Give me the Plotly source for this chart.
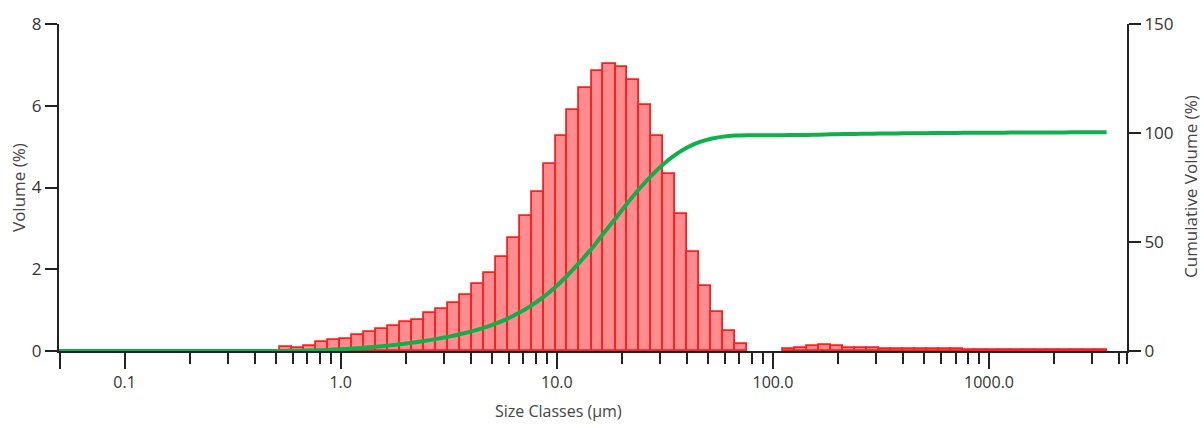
import numpy as np
import plotly.graph_objects as go

# Size class edges (µm), 100 classes
size_edges = [0.0100, 0.0114, 0.0129, 0.0147, 0.0167, 0.0189, 0.0215, 0.0244, 0.0278, 0.0315,
              0.0358, 0.0407, 0.0463, 0.0526, 0.0597, 0.0679, 0.0771, 0.0876, 0.0995, 0.113,
              0.128, 0.146, 0.166, 0.188, 0.214, 0.243, 0.276, 0.314, 0.357, 0.405,
              0.460, 0.523, 0.594, 0.675, 0.767, 0.872, 0.991, 1.13, 1.28, 1.45,
              1.65, 1.88, 2.13, 2.42, 2.75, 3.12, 3.55, 4.03, 4.58, 5.21,
              5.92, 6.72, 7.64, 8.68, 9.86, 11.2, 12.7, 14.5, 16.4, 18.7,
              21.2, 24.1, 27.4, 31.1, 35.3, 40.1, 45.6, 51.8, 58.9, 66.9,
              76.0, 86.4, 98.1, 111, 127, 144, 163, 186, 211, 240,
              272, 310, 352, 400, 454, 516, 586, 666, 756, 859,
              976, 1110, 1260, 1430, 1630, 1850, 2100, 2390, 2710, 3080,
              3500]

# Volume (%) per size class
volume = [0.0] * 31 + [
    0.09, 0.08, 0.13, 0.21, 0.28, 0.30, 0.39, 0.46, 0.53, 0.60,
    0.70, 0.77, 0.92, 1.02, 1.17, 1.37, 1.63, 1.90, 2.30, 2.76,
    3.30, 3.90, 4.57, 5.25, 5.89, 6.43, 6.85, 7.02, 6.95, 6.64,
    6.03, 5.25, 4.32, 3.36, 2.43, 1.59, 0.95, 0.49, 0.18, 0.0,
    0.0, 0.0, 0.04, 0.08, 0.12, 0.14, 0.12, 0.08, 0.07, 0.07,
    0.05, 0.05, 0.05, 0.05, 0.05, 0.04, 0.04, 0.03, 0.03, 0.03,
    0.03, 0.03, 0.02, 0.02, 0.02, 0.02, 0.02, 0.02, 0.02]

major_ticks = [0.05, 0.1, 1, 10, 100, 1000]
major_labels = ["", "0.1", "1.0", "10.0", "100.0", "1000.0"]
minor_ticks = [m * d for d in (0.1, 1, 10, 100) for m in range(2, 10)] + [2000, 3000, 4000]
X_MIN, X_MAX = 0.0497, 4350
left_ticks = [0, 2, 4, 6, 8]
right_ticks = [0, 50, 100, 150]

edges_log = np.log10(np.array(size_edges))
vol = np.array(volume)
centers = (edges_log[:-1] + edges_log[1:]) / 2
widths = edges_log[1:] - edges_log[:-1]
mask = vol > 0
cumulative = np.concatenate([[0.0], np.cumsum(vol)])

FONT = "Open Sans"
TXT = "#333333"
AX = "#222222"

fig = go.Figure()
fig.add_trace(go.Bar(
    x=centers[mask], y=vol[mask], width=widths[mask],
    marker=dict(color="#FF8C8E", line=dict(color="#FF1E1E", width=1.8)),
    yaxis="y", showlegend=False))
fig.add_trace(go.Scatter(
    x=edges_log, y=cumulative, mode="lines", yaxis="y2",
    line=dict(color="#0DB04B", width=4, shape="spline", smoothing=0.6),
    showlegend=False, cliponaxis=True))

fig.update_layout(
    width=1204, height=428,
    margin=dict(l=59, r=77, t=20, b=77),
    paper_bgcolor="white", plot_bgcolor="white",
    font=dict(family=FONT, size=16, color=TXT),
    bargap=0,
    xaxis=dict(
        range=[np.log10(X_MIN), np.log10(X_MAX)],
        tickmode="array", tickvals=np.log10(major_ticks), ticktext=major_labels,
        ticks="outside", ticklen=16, tickwidth=2, tickcolor=AX,
        minor=dict(tickmode="array", tickvals=np.log10(minor_ticks).tolist() + [np.log10(X_MAX)],
                   ticks="outside", ticklen=11, tickwidth=2, tickcolor=AX),
        showline=True, linecolor=AX, linewidth=2, showgrid=False, zeroline=False,
        tickfont=dict(family=FONT, size=16, color=TXT)),
    yaxis=dict(
        range=[0, 8], tickmode="array", tickvals=left_ticks,
        ticks="outside", ticklen=12, tickwidth=2, tickcolor=AX,
        showline=True, linecolor=AX, linewidth=2, showgrid=False, zeroline=False,
        tickfont=dict(family=FONT, size=17, color=TXT)),
    yaxis2=dict(
        range=[0, 150], tickmode="array", tickvals=right_ticks,
        overlaying="y", side="right",
        ticks="outside", ticklen=12, tickwidth=2, tickcolor=AX,
        showline=True, linecolor=AX, linewidth=2, showgrid=False, zeroline=False,
        tickfont=dict(family=FONT, size=17, color=TXT)),
    annotations=[
        dict(text="Volume (%)", xref="paper", yref="paper",
             x=(19 - 59) / 1068, y=(351 - 186) / 331, textangle=-90,
             showarrow=False, xanchor="center", yanchor="middle",
             font=dict(family=FONT, size=17, color="#444444")),
        dict(text="Cumulative Volume (%)", xref="paper", yref="paper",
             x=(1190 - 59) / 1068, y=(351 - 185) / 331, textangle=-90,
             showarrow=False, xanchor="center", yanchor="middle",
             font=dict(family=FONT, size=17, color="#444444")),
        dict(text="Size Classes (µm)", xref="paper", yref="paper",
             x=(558 - 59) / 1068, y=(351 - 412) / 331,
             showarrow=False, xanchor="center", yanchor="middle",
             font=dict(family=FONT, size=16, color="#444444")),
    ],
)

fig.write_html("out.html")
